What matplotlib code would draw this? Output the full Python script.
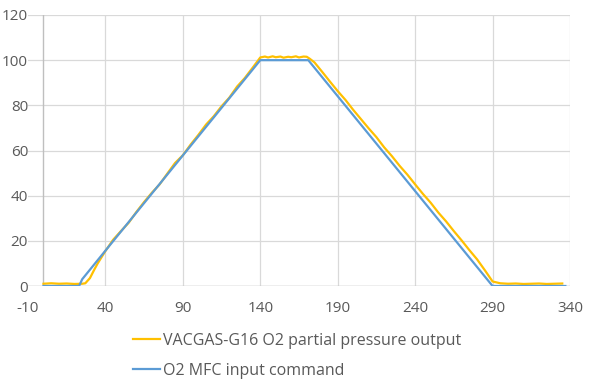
import matplotlib
matplotlib.use("Agg")
from matplotlib import pyplot as plt

plt.rcParams["font.family"] = ["Open Sans", "DejaVu Sans"]
plt.rcParams["axes.unicode_minus"] = False

# O2 MFC input command (setpoint, %)
cmd_x = [0, 23, 25, 140, 171, 290, 337]
cmd_y = [0, 0, 3, 100, 100, 0, 0]

# VACGAS-G16 measured O2 partial pressure output
out_x = [0, 5, 10, 15, 20, 25, 27, 30, 33, 35, 40, 45, 50, 55, 60, 65, 70,
         75, 80, 85, 90, 95, 100, 105, 110, 115, 120, 125, 130, 135, 140,
         143, 145, 148, 150, 153, 155, 158, 160, 163, 165, 168, 170, 172,
         175, 180, 185, 190, 195, 200, 205, 210, 215, 220, 225, 230, 235,
         240, 245, 250, 255, 260, 265, 270, 275, 280, 285, 290, 295, 300,
         305, 310, 315, 320, 325, 330, 335]
out_y = [1.0, 1.2, 1.0, 1.1, 0.9, 1.0, 1.2, 3.5, 7.5, 10.0, 15.5, 20.5,
         24.3, 28.0, 32.8, 37.2, 41.3, 45.0, 49.8, 54.5, 57.9, 62.6, 66.9,
         71.5, 75.2, 79.6, 83.4, 88.3, 92.1, 96.6, 101.2,
         101.6, 101.2, 101.7, 101.3, 101.6, 101.1, 101.5, 101.3, 101.7,
         101.2, 101.6, 101.5, 100.6,
         99.0, 94.8, 90.5, 86.3, 82.4, 78.0, 73.9, 69.8, 65.9, 61.4, 57.5,
         53.2, 49.3, 45.0, 40.8, 36.9, 32.5, 28.6, 24.3, 20.2, 15.9, 11.8,
         7.0, 2.0, 1.2, 1.0, 1.1, 0.9, 1.0, 1.1, 0.9, 1.0, 1.1]

x_ticks = [-10, 40, 90, 140, 190, 240, 290, 340]
y_ticks = [0, 20, 40, 60, 80, 100, 120]

label_gray = "#595959"

fig = plt.figure(figsize=(5.9, 3.92), dpi=100)
ax = fig.add_axes([28 / 590, 106 / 392, 542 / 590, 271 / 392])

ax.plot(out_x, out_y, color="#FFC000", lw=1.6,
        label="VACGAS-G16 O2 partial pressure output", zorder=3)
ax.plot(cmd_x, cmd_y, color="#5B9BD5", lw=1.6,
        label="O2 MFC input command", zorder=4)

ax.set_xlim(-10, 340)
ax.set_ylim(0, 120)
ax.set_xticks(x_ticks)
ax.set_yticks(y_ticks)
ax.grid(True, color="#d9d9d9", lw=0.9)
ax.set_axisbelow(True)
ax.xaxis.get_gridlines()[0].set_visible(False)

for s in ax.spines.values():
    s.set_visible(False)
ax.axvline(0, color="#bfbfbf", lw=1.0, zorder=2)
ax.axhline(0, color="#bfbfbf", lw=1.0, zorder=2)

ax.tick_params(axis="both", length=0, labelsize=11, labelcolor=label_gray)
ax.tick_params(axis="x", pad=10.5)
ax.tick_params(axis="y", pad=0)

fig.legend(loc="upper left", bbox_to_anchor=(133 / 590, 1 - 333 / 392),
           frameon=False, fontsize=11.5, labelcolor=label_gray,
           borderpad=0, borderaxespad=0,
           handlelength=1.7, handletextpad=0.2, labelspacing=0.85)

fig.savefig("out.png", dpi=100)
